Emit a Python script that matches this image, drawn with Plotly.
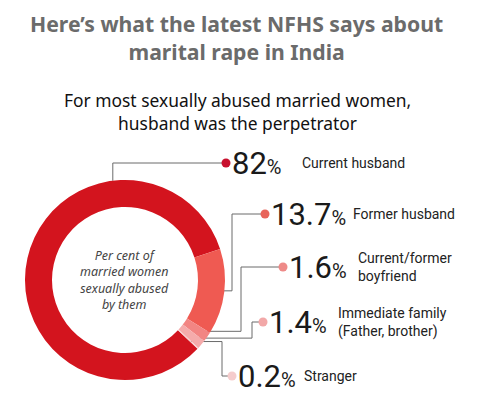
import math
import plotly.graph_objects as go

# data
perpetrators = ["Current husband", "Former husband", "Current/former<br>boyfriend",
                "Immediate family<br>(Father, brother)", "Stranger"]
shares = [82, 13.7, 1.6, 1.4, 0.2]
pct_labels = ["82", "13.7", "1.6", "1.4", "0.2"]

slice_colors = ["#d3141e", "#ef5a52", "#f28583", "#f5abab", "#f8cdcd"]
dot_colors = ["#c8102e", "#e8645a", "#ee8a88", "#f2a8a8", "#f5cccc"]

W, H = 492, 404
OFF = 8  # page body margin pushes the plot down/right
cx, cy, r_out = 125, 280, 100
rotation = 133.5  # start of first slice, degrees clockwise from 12 o'clock


def px_x(v):
    return (v - OFF) / (W - OFF)


def px_y(v):
    return 1 - (v - OFF) / (H - OFF)


fig = go.Figure()

fig.add_trace(go.Pie(
    values=shares,
    labels=perpetrators,
    sort=False,
    direction="clockwise",
    rotation=rotation,
    hole=0.73,
    textinfo="none",
    hoverinfo="label+value",
    marker=dict(colors=slice_colors, line=dict(width=0)),
    domain=dict(x=[px_x(cx - r_out), px_x(cx + r_out)],
                y=[px_y(cy + r_out), px_y(cy - r_out)]),
    showlegend=False,
))

# leader lines, in pixel space via a hidden axis pair
dot_x = [226, 265, 283, 263, 232]
dot_y = [163, 214, 267, 322, 376]
elbow_x = [None, 232, 241, 252, 222]
label_x = [302, 353, 358, 338, 304]

total = sum(shares)
start = rotation
for i, v in enumerate(shares):
    span = v / total * 360
    if i == 0:
        ang = -7  # line leaves the big slice near the top of the ring
        rad = r_out
    else:
        ang = start + span / 2
        rad = r_out * 0.9
    ax_ = cx + rad * math.sin(math.radians(ang))
    ay_ = cy - rad * math.cos(math.radians(ang))
    start += span
    if i == 0:
        xs = [ax_, ax_, dot_x[i]]
        ys = [ay_, dot_y[i], dot_y[i]]
    else:
        xs = [ax_, elbow_x[i], elbow_x[i], dot_x[i]]
        ys = [ay_, ay_, dot_y[i], dot_y[i]]
    fig.add_trace(go.Scatter(x=xs, y=ys, mode="lines",
                             line=dict(color="#6b6b6b", width=1),
                             hoverinfo="skip", showlegend=False))
    fig.add_trace(go.Scatter(x=[dot_x[i]], y=[dot_y[i]], mode="markers",
                             marker=dict(color=dot_colors[i], size=9),
                             hoverinfo="skip", showlegend=False))
    fig.add_annotation(x=dot_x[i] + 4, y=dot_y[i], xref="x", yref="y",
                       text=f"{pct_labels[i]}<span style='font-size:20px'>%</span>",
                       showarrow=False, xanchor="left", yanchor="middle",
                       font=dict(family="Roboto", size=31, color="#1a1a1a"))
    fig.add_annotation(x=label_x[i] - 2, y=dot_y[i], xref="x", yref="y",
                       text=perpetrators[i], align="left",
                       showarrow=False, xanchor="left", yanchor="middle",
                       font=dict(family="Roboto", size=14, color="#222222"))

fig.add_annotation(x=cx - 1, y=cy, xref="x", yref="y",
                   text="<i>Per cent of<br>married women<br>sexually abused<br>by them</i>",
                   showarrow=False, align="center",
                   font=dict(family="Noto Sans", size=12.5, color="#444444"))

fig.add_annotation(x=236, y=37, xref="x", yref="y",
                   text="<b>Here’s what the latest NFHS says about<br>marital rape in India</b>",
                   showarrow=False, align="center",
                   font=dict(family="Noto Sans", size=21.2, color="#6b6b6b"))
fig.add_annotation(x=237, y=111, xref="x", yref="y",
                   text="For most sexually abused married women,<br>husband was the perpetrator",
                   showarrow=False, align="center",
                   font=dict(family="Noto Sans", size=17.4, color="#111111"))

fig.update_layout(
    width=W - OFF, height=H - OFF,
    margin=dict(l=0, r=0, t=0, b=0),
    paper_bgcolor="white", plot_bgcolor="rgba(0,0,0,0)",
    xaxis=dict(range=[OFF, W], visible=False, fixedrange=True),
    yaxis=dict(range=[H, OFF], visible=False, fixedrange=True),
)

fig.write_html("out.html")
